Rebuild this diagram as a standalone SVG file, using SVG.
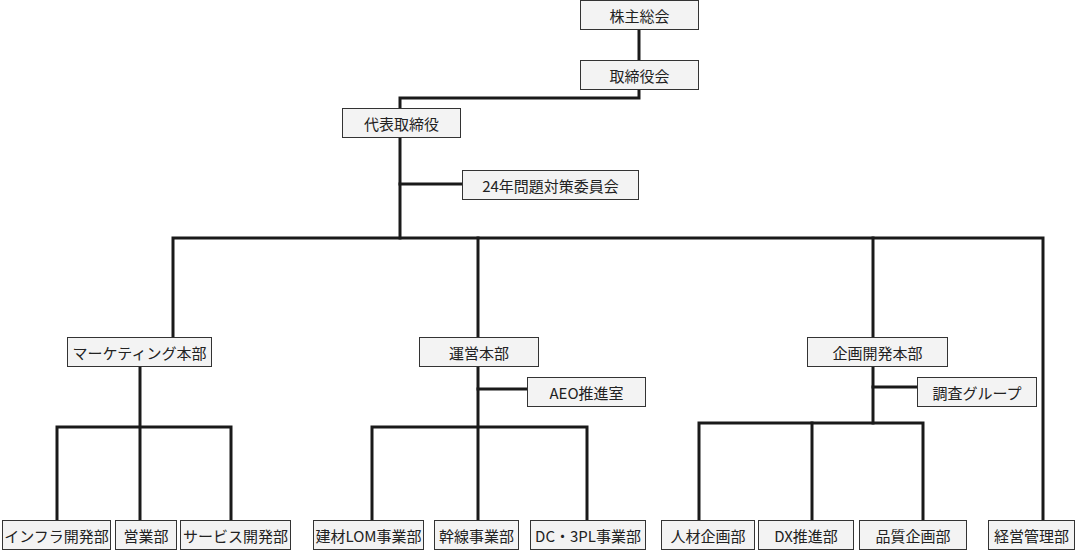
<svg xmlns="http://www.w3.org/2000/svg" width="1082" height="550" viewBox="0 0 1082 550">
<style>
.box rect{fill:#f3f3f3;stroke:#333;stroke-width:1}
.box text{font-family:"Noto Sans CJK JP","Noto Sans",sans-serif;font-size:15px;fill:#222;text-anchor:middle;dominant-baseline:central}
.c{fill:none;stroke:#1a1a1a;stroke-width:3;stroke-linecap:square;stroke-linejoin:miter}
</style>
<rect width="1082" height="550" fill="#fff"/>
<g id="connectors">
<path class="c" d="M639 29V60"/>
<path class="c" d="M639 89V98H400V108"/>
<path class="c" d="M400 137V238"/>
<path class="c" d="M400 184H462"/>
<path class="c" d="M173 337V238H1043V521"/>
<path class="c" d="M478 238V337"/>
<path class="c" d="M873 238V337"/>
<path class="c" d="M140 367V521"/>
<path class="c" d="M57 521V427H231V521"/>
<path class="c" d="M478 366V521"/>
<path class="c" d="M478 389H527"/>
<path class="c" d="M372 521V427H587V521"/>
<path class="c" d="M873 366V423"/>
<path class="c" d="M873 387H917"/>
<path class="c" d="M699 521V423H923V521"/>
<path class="c" d="M812 423V521"/>
</g>
<g id="n1" class="box"><rect x="580.500" y="0.500" width="118" height="29"/><text x="639.500" y="15">株主総会</text></g>
<g id="n2" class="box"><rect x="580.500" y="60.500" width="118" height="29"/><text x="639.500" y="75">取締役会</text></g>
<g id="n3" class="box"><rect x="342.500" y="108.500" width="118" height="29"/><text x="401.500" y="123">代表取締役</text></g>
<g id="n4" class="box"><rect x="462.500" y="170.500" width="176" height="29"/><text x="550.500" y="185">24年問題対策委員会</text></g>
<g id="n5" class="box"><rect x="67.500" y="337.500" width="144" height="29"/><text x="139.500" y="352">マーケティング本部</text></g>
<g id="n6" class="box"><rect x="419.500" y="337.500" width="119" height="29"/><text x="479" y="352">運営本部</text></g>
<g id="n7" class="box"><rect x="807.500" y="337.500" width="140" height="29"/><text x="877.500" y="352">企画開発本部</text></g>
<g id="n8" class="box"><rect x="527.500" y="377.500" width="118" height="29"/><text x="586.500" y="392">AEO推進室</text></g>
<g id="n9" class="box"><rect x="917.500" y="377.500" width="119" height="29"/><text x="977" y="392">調査グループ</text></g>
<g id="n10" class="box"><rect x="2.500" y="520.500" width="108" height="29"/><text x="56.500" y="535">インフラ開発部</text></g>
<g id="n11" class="box"><rect x="115.500" y="520.500" width="61" height="29"/><text x="146" y="535">営業部</text></g>
<g id="n12" class="box"><rect x="180.500" y="520.500" width="110" height="29"/><text x="235.500" y="535">サービス開発部</text></g>
<g id="n13" class="box"><rect x="313.500" y="520.500" width="110" height="29"/><text x="368.500" y="535">建材LOM事業部</text></g>
<g id="n14" class="box"><rect x="434.500" y="520.500" width="84" height="29"/><text x="476.500" y="535">幹線事業部</text></g>
<g id="n15" class="box"><rect x="530.500" y="520.500" width="115" height="29"/><text x="588" y="535">DC・3PL事業部</text></g>
<g id="n16" class="box"><rect x="661.500" y="520.500" width="93" height="29"/><text x="708" y="535">人材企画部</text></g>
<g id="n17" class="box"><rect x="758.500" y="520.500" width="95" height="29"/><text x="806" y="535">DX推進部</text></g>
<g id="n18" class="box"><rect x="859.500" y="520.500" width="107" height="29"/><text x="913" y="535">品質企画部</text></g>
<g id="n19" class="box"><rect x="988.500" y="520.500" width="86" height="29"/><text x="1031.500" y="535">経営管理部</text></g>
</svg>
